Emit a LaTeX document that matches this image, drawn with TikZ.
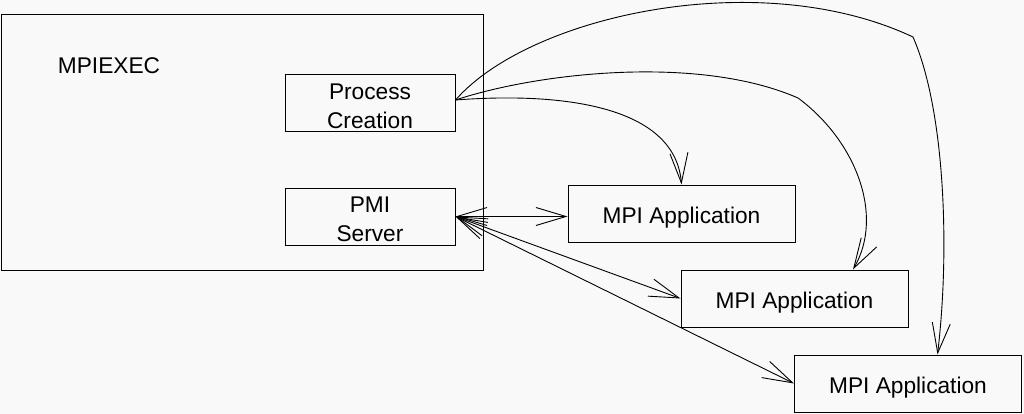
\documentclass[tikz,border=0pt]{standalone}
\usepackage{fontspec}
\setmainfont{Liberation Sans}
\usepackage{tikz}
\usetikzlibrary{arrows.meta}

\definecolor{paper}{RGB}{249,249,249}
\tikzset{
    procbox/.style={draw=black, line width=1pt, minimum width=170pt, minimum height=57pt,
        inner sep=0pt, align=center, text height=49.3pt, text depth=0pt, font=\fontsize{22.7}{29}\selectfont},
    appbox/.style={draw=black, line width=1pt, minimum width=227pt, minimum height=57pt,
        inner sep=0pt, text height=24.5pt, text depth=4.8pt, font=\fontsize{22.7}{29}\selectfont},
    link/.style={line width=0.9pt, -{Straight Barb[length=30pt, width=18pt]}},
    twolink/.style={line width=0.9pt, {Straight Barb[length=30pt, width=18pt]}-{Straight Barb[length=30pt, width=18pt]}}
}

\begin{document}
\begin{tikzpicture}[x=1pt, y=-1pt]
    \fill[paper] (0,0) rectangle (1024,414);
    \useasboundingbox (0,0) rectangle (1024,414);

    \draw[line width=1pt] (1,15) rectangle (483,270);
    \node[font=\fontsize{22.7}{29}\selectfont] (mpiexec) at (109,66) {MPIEXEC};

    \node[procbox] (pc) at (370,103.5) {Process\\Creation};
    \node[procbox] (pmi) at (370,216.5) {PMI\\Server};

    \node[appbox] (appone) at (681.5,213.5) {MPI Application};
    \node[appbox] (apptwo) at (794.5,298.5) {MPI Application};
    \node[appbox] (appthree) at (908,383.5) {MPI Application};

    \coordinate (pcout) at ([yshift=3.5pt]pc.east);
    \coordinate (kinktwo) at (798,98);
    \coordinate (kinkthree) at (913,37);
    \coordinate (intwo) at ([xshift=58.5pt]apptwo.north);
    \coordinate (inthree) at ([xshift=29.5pt]appthree.north);

    % process creation
    \draw[link] (pcout) .. controls (560,92) and (675,105) .. (appone.north);
    \draw[link] (pcout) .. controls (540,72) and (700,55) .. (kinktwo)
        .. controls (855,140) and (885,215) .. (intwo);
    \draw[link] (pcout) .. controls (530,15) and (760,-35) .. (kinkthree)
        .. controls (945,110) and (950,250) .. (inthree);

    % pmi
    \draw[twolink] (pmi.east) -- (pmi.east -| appone.west);
    \draw[twolink] (pmi.east) -- (apptwo.west);
    \draw[twolink] (pmi.east) -- (appthree.west);
\end{tikzpicture}
\end{document}
